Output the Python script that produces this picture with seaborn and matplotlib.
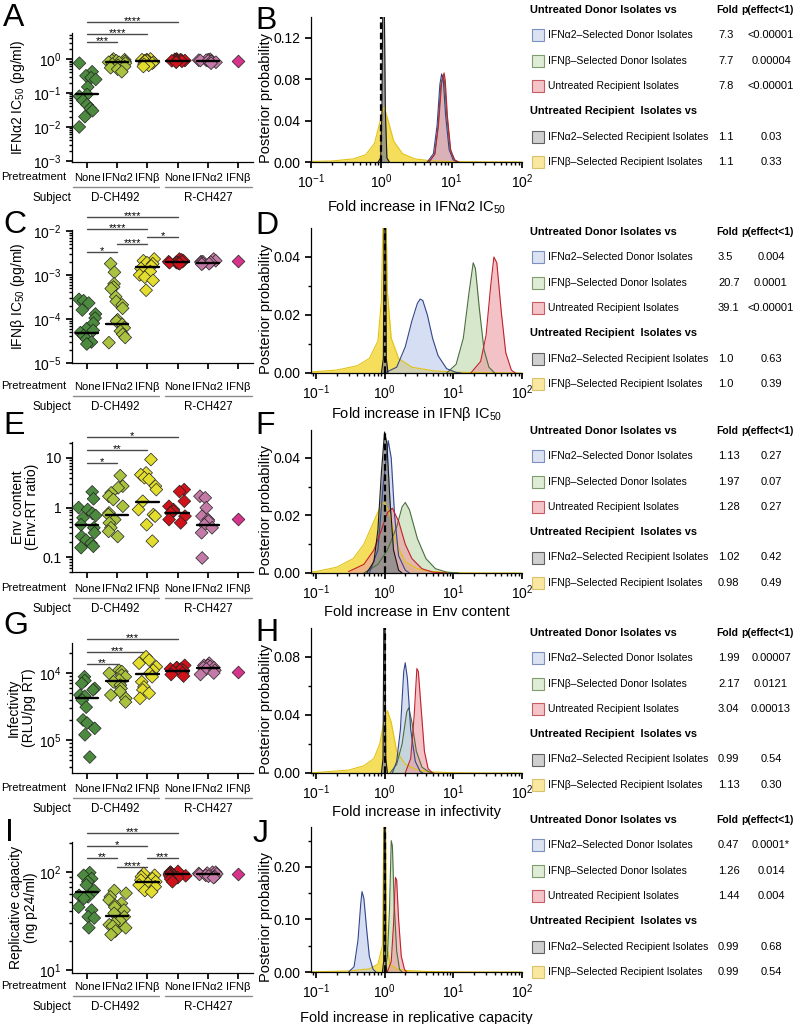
import warnings
import numpy as np
import pandas as pd
import matplotlib
matplotlib.use("Agg")
import matplotlib.pyplot as plt
import matplotlib.ticker as mticker
from matplotlib.patches import Rectangle
import seaborn as sns

warnings.filterwarnings("ignore")
np.random.seed(7)  # strip jitter only

# ---------------- left column: isolate measurements ----------------
pretreatment = ["None", "IFNα2", "IFNβ", "None", "IFNα2", "IFNβ"]
group_colors = ["#4c8b3f", "#a9c23f", "#e3dd2e", "#d0121b", "#c47aa6", "#d6338a"]

ifna_ic50 = [
    [0.75, 0.42, 0.32, 0.28, 0.25, 0.15, 0.09, 0.08, 0.06, 0.045, 0.035, 0.03, 0.02, 0.01],
    [1.0, 0.95, 0.9, 0.88, 0.85, 0.8, 0.8, 0.75, 0.7, 0.65, 0.6, 0.55, 0.5, 0.42],
    [1.0, 0.95, 0.95, 0.92, 0.9, 0.88, 0.85, 0.8, 0.75, 0.7, 0.65, 0.6],
    [1.0, 0.98, 0.95, 0.95, 0.93, 0.92, 0.9, 0.9, 0.88, 0.85, 0.82, 0.8],
    [0.98, 0.95, 0.92, 0.92, 0.9, 0.88, 0.88, 0.85, 0.8, 0.75],
    [0.85],
]
ifna_medians = [0.09, 0.8, 0.88, 0.9, 0.9, None]
ifna_sig = [(0, 1, "***"), (0, 2, "****"), (0, 3, "****")]

ifnb_ic50 = [
    [2.8e-4, 2.6e-4, 2.3e-4, 1.6e-4, 1.3e-4, 1.05e-4, 8e-5, 6e-5, 5.5e-5, 4.9e-5, 4.2e-5, 3.5e-5, 3e-5, 2.7e-5],
    [1.8e-3, 1.15e-3, 6.3e-4, 5.3e-4, 4.9e-4, 3.2e-4, 2.5e-4, 2.1e-4, 1.75e-4, 9.6e-5, 8.9e-5, 7.5e-5,
     6.3e-5, 5.3e-5, 4.5e-5, 3.8e-5, 2.9e-5],
    [2.3e-3, 2.1e-3, 1.9e-3, 1.8e-3, 1.6e-3, 1.4e-3, 1.2e-3, 1.0e-3, 8.9e-4, 7.5e-4, 4.5e-4],
    [2.3e-3, 2.2e-3, 2.1e-3, 2.0e-3, 2.0e-3, 1.95e-3, 1.9e-3, 1.9e-3, 1.85e-3, 1.8e-3],
    [2.3e-3, 2.1e-3, 2.0e-3, 2.0e-3, 1.95e-3, 1.9e-3, 1.85e-3, 1.8e-3, 1.75e-3],
    [2.1e-3],
]
ifnb_medians = [4.9e-5, 7.5e-5, 1.5e-3, 1.95e-3, 1.9e-3, None]
ifnb_sig = [(0, 1, "*"), (1, 2, "****"), (2, 3, "*"), (0, 2, "****"), (0, 3, "****")]

env_content = [
    [2.07, 1.5, 1.0, 0.91, 0.76, 0.69, 0.62, 0.45, 0.39, 0.31, 0.26, 0.22, 0.19, 0.165, 0.155],
    [4.4, 2.7, 2.5, 1.98, 1.69, 1.45, 1.06, 0.78, 0.72, 0.57, 0.49, 0.39, 0.33, 0.26],
    [9.3, 5.0, 4.6, 4.0, 3.7, 2.7, 2.3, 1.34, 0.91, 0.72, 0.67, 0.45, 0.21],
    [2.3, 2.1, 1.34, 1.06, 0.91, 0.84, 0.78, 0.67, 0.57, 0.49],
    [1.69, 1.57, 0.99, 0.67, 0.57, 0.53, 0.45, 0.39, 0.31, 0.096],
    [0.59],
]
env_medians = [0.44, 0.72, 1.28, 0.78, 0.45, None]
env_sig = [(0, 1, "*"), (0, 2, "**"), (0, 3, "*")]

infectivity = [
    [8800, 7700, 7000, 5900, 5600, 4700, 4500, 3950, 3100, 2000, 1800, 1500, 1200, 560],
    [11000, 10500, 9900, 9300, 8800, 7900, 7400, 6600, 5900, 5300, 4700, 4200, 3700],
    [17500, 15600, 14000, 12400, 11000, 9900, 8800, 7400, 6200, 5600, 5000, 4200],
    [13000, 12000, 12000, 11500, 11500, 11000, 11000, 10500, 10000, 9500, 9000],
    [14000, 13000, 13000, 12500, 12000, 12000, 11500, 11000, 10000, 9500],
    [10500],
]
infect_medians = [4200, 7600, 9700, 10700, 11700, None]
infect_sig = [(0, 1, "**"), (0, 2, "***"), (0, 3, "***")]
infect_ticks = [1e3, 1e4]
infect_ticklabels = ["$10^5$", "$10^4$"]

replicative = [
    [99, 93, 86, 80, 74, 65, 58, 56, 54, 44, 41, 35, 34, 27],
    [65, 61, 56, 52, 48, 46, 44, 41, 38, 35, 32, 30, 29, 28, 27, 25, 23],
    [97, 93, 90, 86, 83, 80, 77, 74, 71, 65, 63],
    [102, 100, 100, 98, 96, 96, 94, 92, 90, 88, 85, 80],
    [100, 100, 98, 97, 96, 95, 93, 91, 90, 88],
    [95],
]
repl_medians = [63, 36, 80, 96, 97, None]
repl_sig = [(0, 1, "**"), (1, 2, "****"), (2, 3, "***"), (0, 2, "*"), (0, 3, "***")]

# ---------------- middle column: posterior densities ----------------
fill_colors = {"blue": "#b9c9ea", "green": "#bcd8ab", "red": "#eb9aa0",
               "gray": "#8a8a8a", "yellow": "#f3d633"}
edge_colors = {"blue": "#34468c", "green": "#4b6e3f", "red": "#c3202c",
               "gray": "#1a1a1a", "yellow": "#e2c214"}
draw_order = ["yellow", "green", "blue", "red", "gray"]

dens_ifna = {
    "yellow": ([0.1, 0.2, 0.4, 0.6, 0.8, 0.95, 1.1, 1.25, 1.5, 2, 3, 5, 10, 30, 100],
               [0.0005, 0.001, 0.003, 0.007, 0.018, 0.038, 0.053, 0.04, 0.02, 0.008, 0.003, 0.0012, 0.0004, 0.0001, 0.0]),
    "gray": ([0.9, 0.98, 1.02, 1.05, 1.1, 1.14, 1.2, 1.3],
             [0, 0.004, 0.05, 0.16, 0.16, 0.05, 0.004, 0]),
    "blue": ([4.5, 5.5, 6.2, 6.8, 7.2, 7.6, 8.2, 9.2, 10.5, 12],
             [0, 0.008, 0.035, 0.075, 0.085, 0.079, 0.045, 0.012, 0.002, 0]),
    "green": ([4.7, 5.7, 6.4, 7.0, 7.5, 7.9, 8.5, 9.5, 11, 12.5],
              [0, 0.007, 0.034, 0.074, 0.084, 0.078, 0.046, 0.013, 0.002, 0]),
    "red": ([4.8, 5.8, 6.5, 7.2, 7.8, 8.1, 8.7, 9.7, 11, 12.5],
            [0, 0.008, 0.036, 0.076, 0.086, 0.079, 0.044, 0.011, 0.002, 0]),
}
dens_ifnb = {
    "yellow": ([0.08, 0.2, 0.4, 0.6, 0.8, 0.9, 0.96, 1.04, 1.1, 1.25, 1.6, 2.5, 5, 10, 30, 100],
               [0.0003, 0.001, 0.0025, 0.005, 0.011, 0.025, 0.06, 0.06, 0.028, 0.012, 0.005, 0.002, 0.0008, 0.0003, 0.0001, 0]),
    "gray": ([0.9, 0.96, 0.99, 1.03, 1.06, 1.12],
             [0, 0.005, 0.06, 0.06, 0.005, 0]),
    "blue": ([1.0, 1.5, 2.0, 2.5, 3.0, 3.3, 3.6, 4.2, 5.0, 6.0, 8.0, 11, 13],
             [0, 0.002, 0.009, 0.018, 0.024, 0.0255, 0.025, 0.02, 0.012, 0.006, 0.0015, 0.0002, 0]),
    "green": ([8, 11, 14, 17, 19.5, 21, 24, 28, 33, 40],
              [0, 0.003, 0.012, 0.028, 0.038, 0.036, 0.022, 0.008, 0.002, 0]),
    "red": ([18, 25, 30, 35, 39, 43, 50, 58, 70, 80],
            [0, 0.004, 0.013, 0.03, 0.040, 0.038, 0.021, 0.007, 0.001, 0]),
}
dens_env = {
    "yellow": ([0.08, 0.1, 0.2, 0.35, 0.5, 0.7, 0.9, 1.0, 1.2, 1.5, 2, 3, 5, 10, 30, 100],
               [0.0003, 0.0005, 0.002, 0.005, 0.01, 0.018, 0.024, 0.0245, 0.02, 0.01, 0.004, 0.0015, 0.0005, 0.0001, 0, 0]),
    "gray": ([0.55, 0.7, 0.8, 0.9, 1.0, 1.08, 1.2, 1.35, 1.6, 1.8],
             [0, 0.004, 0.015, 0.035, 0.049, 0.045, 0.025, 0.008, 0.001, 0]),
    "blue": ([0.6, 0.8, 0.95, 1.13, 1.25, 1.4, 1.6, 2.0, 2.3],
             [0, 0.008, 0.03, 0.046, 0.04, 0.02, 0.006, 0.001, 0]),
    "green": ([0.5, 0.8, 1.1, 1.5, 1.8, 2.0, 2.3, 3.0, 4.0, 5.5, 8, 12],
              [0, 0.003, 0.008, 0.016, 0.023, 0.0245, 0.022, 0.012, 0.005, 0.0015, 0.0003, 0]),
    "red": ([0.3, 0.5, 0.7, 0.9, 1.1, 1.3, 1.6, 2.0, 2.5, 3.5, 5, 8],
            [0.0005, 0.003, 0.008, 0.015, 0.021, 0.0225, 0.018, 0.01, 0.005, 0.0015, 0.0003, 0]),
}
dens_infect = {
    "yellow": ([0.08, 0.1, 0.3, 0.5, 0.7, 0.85, 1.0, 1.1, 1.25, 1.5, 2, 3, 5, 10, 30, 100],
               [0.0002, 0.0003, 0.002, 0.005, 0.01, 0.02, 0.038, 0.043, 0.035, 0.015, 0.006, 0.002, 0.0007, 0.0002, 0, 0]),
    "gray": ([0.9, 0.95, 0.98, 1.01, 1.04, 1.1],
             [0, 0.01, 0.12, 0.12, 0.01, 0]),
    "blue": ([1.3, 1.5, 1.7, 1.9, 2.0, 2.15, 2.4, 2.8, 3.3, 3.6],
             [0, 0.008, 0.03, 0.07, 0.076, 0.065, 0.03, 0.008, 0.001, 0]),
    "green": ([1.2, 1.5, 1.8, 2.1, 2.25, 2.5, 2.9, 3.5, 4.5, 5.2],
              [0, 0.006, 0.02, 0.042, 0.045, 0.035, 0.015, 0.004, 0.0005, 0]),
    "red": ([2.0, 2.4, 2.7, 2.95, 3.1, 3.4, 3.8, 4.3, 5.0],
            [0, 0.01, 0.04, 0.072, 0.07, 0.045, 0.015, 0.003, 0]),
}
dens_repl = {
    "yellow": ([0.08, 0.1, 0.3, 0.6, 0.8, 0.93, 0.98, 1.03, 1.08, 1.2, 1.5, 2, 4, 10, 30, 100],
               [0.0003, 0.0005, 0.002, 0.006, 0.015, 0.05, 0.3, 0.3, 0.05, 0.015, 0.006, 0.003, 0.001, 0.0002, 0, 0]),
    "gray": ([0.93, 0.97, 0.99, 1.02, 1.04, 1.08],
             [0, 0.02, 0.3, 0.3, 0.02, 0]),
    "blue": ([0.3, 0.36, 0.41, 0.45, 0.47, 0.5, 0.55, 0.6, 0.68, 0.75],
             [0, 0.01, 0.06, 0.13, 0.153, 0.14, 0.08, 0.03, 0.005, 0]),
    "green": ([1.0, 1.1, 1.18, 1.25, 1.3, 1.38, 1.5, 1.65, 1.8],
              [0, 0.03, 0.12, 0.25, 0.24, 0.13, 0.04, 0.005, 0]),
    "red": ([1.1, 1.25, 1.35, 1.44, 1.5, 1.6, 1.75, 1.95, 2.1],
            [0, 0.02, 0.09, 0.18, 0.175, 0.1, 0.03, 0.005, 0]),
}

# ---------------- right column: summary tables ----------------
table_rows = ["IFNα2–Selected Donor Isolates", "IFNβ–Selected Donor Isolates",
              "Untreated Recipient Isolates", "IFNα2–Selected Recipient Isolates",
              "IFNβ–Selected Recipient Isolates"]
swatch_face = ["#dbe3f3", "#e0edd6", "#f3c4c8", "#d0d0d0", "#fae8a0"]
swatch_edge = ["#7d8fbf", "#7f9c6f", "#c85a63", "#606060", "#d9c36a"]
folds = [["7.3", "7.7", "7.8", "1.1", "1.1"],
         ["3.5", "20.7", "39.1", "1.0", "1.0"],
         ["1.13", "1.97", "1.28", "1.02", "0.98"],
         ["1.99", "2.17", "3.04", "0.99", "1.13"],
         ["0.47", "1.26", "1.44", "0.99", "0.99"]]
pvals = [["<0.00001", "0.00004", "<0.00001", "0.03", "0.33"],
         ["0.004", "0.0001", "<0.00001", "0.63", "0.39"],
         ["0.27", "0.07", "0.27", "0.42", "0.49"],
         ["0.00007", "0.0121", "0.00013", "0.54", "0.30"],
         ["0.0001*", "0.014", "0.004", "0.68", "0.54"]]

# ---------------- style ----------------
sns.set_theme(style="ticks")
plt.rcParams.update({
    "font.family": ["Liberation Sans", "DejaVu Sans"],
    "mathtext.fontset": "custom",
    "mathtext.rm": "Liberation Sans",
    "mathtext.it": "Liberation Sans:italic",
    "mathtext.bf": "Liberation Sans:bold",
    "text.color": "black", "axes.labelcolor": "black",
    "xtick.color": "black", "ytick.color": "black",
    "axes.edgecolor": "black", "axes.linewidth": 0.9,
    "xtick.major.size": 4, "ytick.major.size": 4,
    "xtick.minor.size": 2, "ytick.minor.size": 2,
    "xtick.labelsize": 10, "ytick.labelsize": 10,
})

W, H = 802, 1024
fig = plt.figure(figsize=(W / 100, H / 100), dpi=100)
SMALL = 8.1


def px_axes(box):
    x0, y0, x1, y1 = box
    return fig.add_axes([x0 / W, 1 - y1 / H, (x1 - x0) / W, (y1 - y0) / H])


def left_panel(box, groups, medians, sig, levels, ylim, ylabel, lab_x, lab_off,
               ticks=None, ticklabels=None):
    ax = px_axes(box)
    h = box[3] - box[1]
    rows = [(f"g{i}", v) for i, vals in enumerate(groups) for v in vals]
    df = pd.DataFrame(rows, columns=["group", "value"])
    ax.set_yscale("log")
    sns.stripplot(data=df, x="group", y="value", hue="group",
                  order=[f"g{i}" for i in range(6)], palette=group_colors,
                  marker="D", size=6.5, edgecolor="#222222", linewidth=0.5,
                  jitter=0.3, legend=False, ax=ax)
    for i, m in enumerate(medians):
        if m is not None:
            ax.plot([i - 0.37, i + 0.37], [m, m], color="black", lw=1.7, zorder=5)
    tr = ax.get_xaxis_transform()
    for (i, j, s), lev in zip(sig, levels):
        ax.plot([i, j], [lev, lev], transform=tr, color="#4a4a4a", lw=1, clip_on=False)
        ax.annotate(s, xy=((i + j) / 2, lev), xycoords=tr, xytext=(0, -1.5),
                    textcoords="offset points", ha="center", va="baseline",
                    fontsize=8, annotation_clip=False)
    ax.set_xlim(-0.5, 5.5)
    ax.set_ylim(*ylim)
    ax.set_xticks(range(6))
    ax.set_xticklabels(pretreatment, fontsize=SMALL)
    ax.tick_params(axis="x", pad=(lab_off - 10) * 0.72)
    if ticks is not None:
        ax.set_yticks(ticks)
        ax.set_yticklabels(ticklabels)
    ax.yaxis.set_minor_formatter(mticker.NullFormatter())
    ax.set_xlabel("")
    ax.set_ylabel(ylabel, fontsize=10, linespacing=1.05)
    ax.yaxis.set_label_coords(lab_x, 0.5)
    sns.despine(ax=ax)
    # pretreatment / subject annotation under the axis
    ax.text(-0.03, -lab_off / h, "Pretreatment", transform=ax.transAxes, ha="right",
            va="center", fontsize=SMALL)
    ax.text(-0.005, -(lab_off + 21) / h, "Subject", transform=ax.transAxes,
            ha="right", va="center", fontsize=SMALL + 0.3)
    for a, b, name in [(-0.47, 2.37, "D-CH492"), (2.57, 5.47, "R-CH427")]:
        ax.plot([a, b], [-(lab_off + 10) / h] * 2, transform=tr, color="#8a8a8a",
                lw=1, clip_on=False)
        ax.text((a + b) / 2, -(lab_off + 21) / h, name, transform=tr, ha="center",
                va="center", fontsize=SMALL + 0.3)
    return ax


def mid_panel(box, curves, xlim, ylim, major, minor, xlabel, xlab_off, lab_y=0.44,
              fmt="%.2f"):
    ax = px_axes(box)
    ax.set_xscale("log")
    for name in draw_order:
        xs, ys = curves[name]
        alpha = 0.8 if name in ("yellow", "gray") else 0.6
        ax.fill_between(xs, ys, color=fill_colors[name], alpha=alpha, lw=0)
        sns.lineplot(x=xs, y=ys, color=edge_colors[name], lw=0.8, ax=ax,
                     estimator=None, sort=False)
    ax.axvline(1, color="black", ls=(0, (3, 1.6)), lw=1.6, zorder=6)
    ax.set_xlim(*xlim)
    ax.set_ylim(*ylim)
    ax.set_yticks(major)
    ax.set_yticks(minor, minor=True)
    ax.yaxis.set_major_formatter(mticker.FormatStrFormatter(fmt))
    ax.xaxis.set_major_locator(mticker.LogLocator(base=10))
    ax.xaxis.set_minor_locator(mticker.LogLocator(base=10, subs=np.arange(2, 10)))
    ax.xaxis.set_minor_formatter(mticker.NullFormatter())
    ax.set_ylabel("Posterior probability", fontsize=10.5)
    ax.yaxis.set_label_coords(-0.18, lab_y)
    ax.set_xlabel(xlabel, fontsize=10.5)
    h = box[3] - box[1]
    ax.xaxis.set_label_coords(0.5, -xlab_off / h)
    sns.despine(ax=ax)
    return ax


left_boxes = [(72, 33, 253, 162), (72, 230, 253, 363), (72, 442, 253, 572),
              (72, 643, 253, 773), (72, 842, 253, 973)]
mid_boxes = [(311, 17, 522, 162), (311, 228, 522, 373), (311, 430, 522, 573),
             (311, 628, 522, 773), (311, 827, 522, 972)]

left_panel(left_boxes[0], ifna_ic50, ifna_medians, ifna_sig, [0.93, 0.99, 1.085],
           (9.3e-4, 5.8), "IFNα2 IC$_{50}$ (pg/ml)", -0.25, 15)
left_panel(left_boxes[1], ifnb_ic50, ifnb_medians, ifnb_sig,
           [0.838, 0.895, 0.95, 1.008, 1.098],
           (1e-5, 1.05e-2), "IFNβ IC$_{50}$ (pg/ml)", -0.25, 23)
left_panel(left_boxes[2], env_content, env_medians, env_sig, [0.838, 0.938, 1.038],
           (0.05, 21), "Env content\n(Env:RT ratio)", -0.18, 16,
           [0.1, 1, 10], ["0.1", "1", "10"])
left_panel(left_boxes[3], infectivity, infect_medians, infect_sig, [0.838, 0.93, 1.03],
           (324, 28000), "Infectivity\n(RLU/pg RT)", -0.2, 15,
           infect_ticks, infect_ticklabels)
left_panel(left_boxes[4], replicative, repl_medians, repl_sig,
           [0.878, 0.809, 0.878, 0.97, 1.069],
           (9.3, 204), "Replicative capacity\n(ng p24/ml)", -0.19, 13,
           [10, 100], ["$10^1$", "$10^2$"])

mid_panel(mid_boxes[0], dens_ifna, (0.1, 100), (0, 0.14), [0, 0.04, 0.08, 0.12], [],
          "Fold increase in IFNα2 IC$_{50}$", 37)
mid_panel(mid_boxes[1], dens_ifnb, (0.085, 100), (0, 0.05), [0, 0.02, 0.04], [0.01, 0.03],
          "Fold increase in IFNβ IC$_{50}$", 32)
mid_panel(mid_boxes[2], dens_env, (0.085, 100), (0, 0.0497), [0, 0.02, 0.04], [0.01, 0.03],
          "Fold increase in Env content", 32)
mid_panel(mid_boxes[3], dens_infect, (0.085, 100), (0, 0.10), [0, 0.04, 0.08], [0.02, 0.06],
          "Fold increase in infectivity", 32)
mid_panel(mid_boxes[4], dens_repl, (0.085, 100), (0, 0.276), [0, 0.10, 0.20], [0.05, 0.15, 0.25],
          "Fold increase in replicative capacity", 39, lab_y=0.38)

# overlay in pixel coordinates for panel letters and tables
ov = fig.add_axes([0, 0, 1, 1])
ov.set_xlim(0, W)
ov.set_ylim(H, 0)
ov.axis("off")

letters = [("A", 3, 3), ("B", 255, 6), ("C", 3, 210), ("D", 255, 211),
           ("E", 3, 411), ("F", 255, 411), ("G", 3, 611), ("H", 255, 618),
           ("I", 5, 818), ("J", 253, 819)]
for s, x, y in letters:
    ov.text(x, y, s, fontsize=23, ha="left", va="top")

table_tops = [10, 232, 431, 633, 820]
step = 25.3
TF = 7.7
for t, y0 in enumerate(table_tops):
    ov.text(530, y0, "Untreated Donor Isolates vs", fontsize=TF + 0.2, fontweight="bold",
            ha="left", va="center")
    ov.text(716, y0, "Fold", fontsize=TF - 0.2, fontweight="bold", ha="left", va="center")
    ov.text(741, y0, "p(effect<1)", fontsize=TF - 0.2, fontweight="bold", ha="left", va="center")
    ov.text(530, y0 + 4 * step, "Untreated Recipient  Isolates vs", fontsize=TF + 0.2,
            fontweight="bold", ha="left", va="center")
    ys = [y0 + step * k for k in (1, 2, 3, 5, 6)]
    for k, yy in enumerate(ys):
        ov.add_patch(Rectangle((532, yy - 6), 12, 12, facecolor=swatch_face[k],
                               edgecolor=swatch_edge[k], lw=0.8))
        ov.text(548, yy, table_rows[k], fontsize=TF - 0.2, ha="left", va="center")
        ov.text(718, yy, folds[t][k], fontsize=TF + 0.3, ha="left", va="center")
        ov.text(771, yy, pvals[t][k], fontsize=TF + 0.3, ha="center", va="center")

fig.savefig("out.png", dpi=100)
